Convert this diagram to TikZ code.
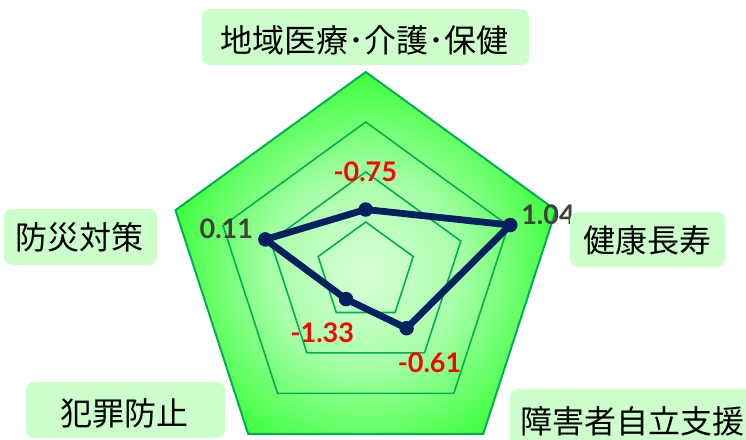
\documentclass[tikz,border=0pt]{standalone}
\usepackage{fontspec}
\setmainfont{Carlito}
\newfontfamily\numfont{Lato}
\newfontfamily\cjk{Noto Sans CJK JP}
\usetikzlibrary{calc}
\definecolor{gridg}{RGB}{0,176,80}
\definecolor{innerg}{RGB}{218,255,218}
\definecolor{midg}{RGB}{170,255,170}
\definecolor{outerg}{RGB}{55,255,55}
\definecolor{boxg}{RGB}{204,255,204}
\definecolor{navy}{RGB}{0,32,96}
\definecolor{valgray}{RGB}{64,64,64}
\definecolor{valred}{RGB}{255,0,0}
\pgfdeclareradialshading{radarshade}{\pgfpoint{0bp}{0bp}}{color(0bp)=(innerg); color(11bp)=(midg); color(25bp)=(outerg); color(50bp)=(outerg)}
\tikzset{
  gridline/.style={draw=gridg, line width=1.6pt, line join=miter},
  outerline/.style={draw=gridg, line width=2pt, line join=miter},
  dataline/.style={draw=navy, line width=6.8pt, line join=round},
  marker/.style={circle, fill=navy, inner sep=0pt, minimum size=14.5pt},
  catbox/.style={fill=boxg, rounded corners=8pt, inner sep=0pt},
  cattext/.style={font=\cjk\fontsize{32}{32}\selectfont, text=black, inner sep=0pt},
  valgraylabel/.style={font=\numfont\bfseries\fontsize{27}{27}\selectfont, text=valgray, inner sep=0pt},
  valredlabel/.style={font=\numfont\bfseries\fontsize{27}{27}\selectfont, text=valred, inner sep=0pt},
}
\newcommand{\pentapath}[1]{($(C)+(-90:#1)$) -- ($(C)+(-18:#1)$) -- ($(C)+(54:#1)$) -- ($(C)+(126:#1)$) -- ($(C)+(198:#1)$) -- cycle}
\begin{document}
\begin{tikzpicture}[x=1pt,y=-1pt]
\useasboundingbox (0,0) rectangle (746,439);
\coordinate (C) at (365.7,272);
% shaded plot area
\begin{scope}[shift={(0,3.5)}]
  \clip \pentapath{200};
  \shade[shading=radarshade] (C) circle[radius=205pt];
\end{scope}
% grid rings
\draw[gridline] \pentapath{50};
\draw[gridline] \pentapath{100};
\draw[gridline] \pentapath{150};
\draw[outerline] \pentapath{200};
% data points
\coordinate (pT) at ($(C)+(-90:62.5)$);
\coordinate (pR) at ($(C)+(-18:152)$);
\coordinate (pBR) at ($(C)+(54:69.5)$);
\coordinate (pBL) at ($(C)+(126:33.5)$);
\coordinate (pL) at ($(C)+(198:105.5)$);
\draw[dataline] (pT) -- (pR) -- (pBR) -- (pBL) -- (pL) -- cycle;
\node[marker] (mT) at (pT) {};
\node[marker] (mR) at (pR) {};
\node[marker] (mBR) at (pBR) {};
\node[marker] (mBL) at (pBL) {};
\node[marker] (mL) at (pL) {};
% value labels
\node[valredlabel] (vT) at (365.3,171.5) {-0.75};
\node[valgraylabel] (vR) at (548,215) {1.04};
\node[valredlabel] (vBR) at (429.5,362.3) {-0.61};
\node[valredlabel] (vBL) at (322.3,332.3) {-1.33};
\node[valgraylabel] (vL) at (226.3,228.7) {0.11};
% category boxes
\node[catbox, minimum width=327pt, minimum height=56pt] (bT) at (365.5,37) {};
\node[catbox, minimum width=153pt, minimum height=56pt] (bL) at (80.5,237) {};
\node[catbox, minimum width=155pt, minimum height=55pt] (bR) at (647.5,239.5) {};
\node[catbox, minimum width=199pt, minimum height=56pt] (bBL) at (125.5,410) {};
\node[catbox, minimum width=244pt, minimum height=56pt] (bBR) at (632,417) {};
% category texts
\node[cattext] (tT) at (364,40.8) {地域医療･介護･保健};
\node[cattext] (tL) at (79.5,237) {防災対策};
\node[cattext] (tR) at (647,240) {健康長寿};
\node[cattext] (tBL) at (124.5,413.5) {犯罪防止};
\node[cattext] (tBR) at (632,421) {障害者自立支援};
\end{tikzpicture}
\end{document}
